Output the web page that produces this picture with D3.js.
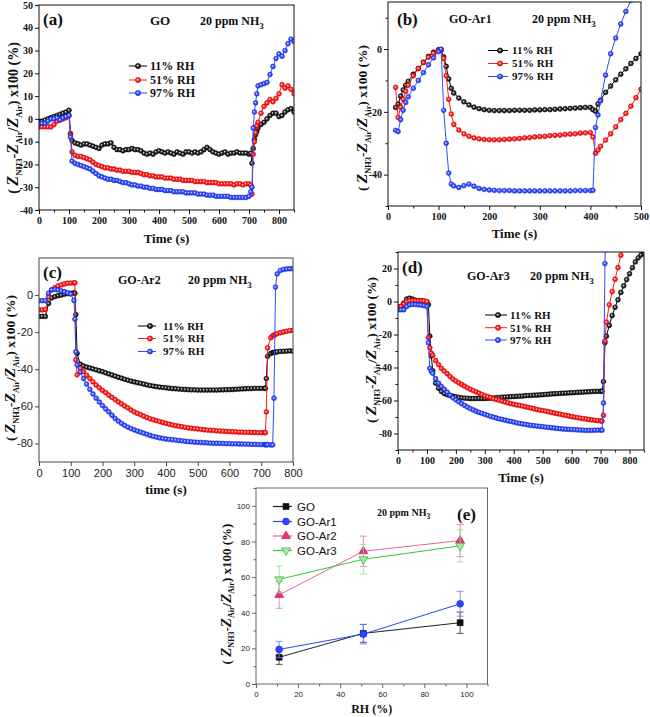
<!DOCTYPE html>
<html><head><meta charset="utf-8">
<script src="https://cdn.jsdelivr.net/npm/d3@7"></script>
<style>body{margin:0;background:#fff} svg{display:block}</style>
</head><body>
<svg id="chart" width="650" height="717"></svg>
<script>
// ---------------- DATA ----------------
const rhLabels = ["11% RH", "51% RH", "97% RH"];

// Panel (a) GO
const aTime = [0,10,20,30,40,50,60,70,80,90,100,105,
 110,120,130,140,150,160,170,180,190,200,
 210,220,230,240,250,260,270,280,290,300,
 310,320,330,340,350,360,370,380,390,400,
 410,420,430,440,450,460,470,480,490,500,
 510,520,530,540,550,560,570,580,590,600,
 610,620,630,640,650,660,670,680,690,700,
 706,710,714,718,722,726,
 730,740,750,760,770,780,790,800,810,820,830,840,850];
const a11 = [-1,-1,-0.5,0,0.5,1,1.5,2,2.5,3,3.8,-6.5,
 -9.5,-10.5,-11,-11.5,-11,-11,-11.5,-12,-12.5,-13,
 -11.5,-11,-11,-10.5,-12.5,-13.5,-13.5,-14,-13.5,-13.5,
 -13,-13.5,-13.5,-14,-15,-15.5,-15,-15.5,-14.5,-14,
 -14.5,-15,-14.5,-15,-15.5,-14.5,-15,-15.5,-14.5,-14.5,
 -15,-14.5,-15,-14.5,-13.5,-12.5,-13.5,-14.5,-15,-15.5,
 -15,-14.5,-15.5,-15,-15,-14.5,-15,-15,-15,-15.5,
 -15,-19.5,-13,-9,-7,-5.5,
 -4,-2.5,-1.5,0,1.5,2.5,2.5,1,1.5,3,4,4.5,3];
const a51 = [-3.5,-3.5,-3.5,-3.5,-3.5,-2.5,-1,-0.5,0,0.5,1.5,-7,
 -14.5,-16,-16.5,-16.5,-17,-17.5,-18,-19,-20,-20.5,
 -21,-21.5,-21.5,-22,-22,-22.5,-22.5,-23,-23,-23,
 -23.5,-23.5,-23.5,-24,-24.5,-24.5,-25,-25,-25.5,-25.5,
 -25.5,-26,-26,-26,-26.5,-26.5,-26.5,-27,-27,-27,
 -27,-27.5,-27.5,-27.5,-27.5,-28,-28,-28,-28,-28.5,
 -28.5,-28.5,-28.5,-28.5,-29,-28.5,-28.5,-29,-28.5,-28.5,
 -29,-33,-15.5,-10,-6,-3,
 -1.5,2.5,5.5,7,8.5,7.5,9,11,15,13.5,14.5,13,11];
const a97 = [-2,-2,-2,-1,0,0,0.5,-0.5,0.5,1,1.5,-8,
 -18.5,-19.5,-20,-20.5,-21,-21.5,-22,-23,-24,-25,
 -25.5,-26,-26.5,-26.5,-27,-27,-27.5,-28,-28,-28.5,
 -29,-29,-29.5,-29.5,-30,-30,-30.5,-30.5,-31,-31,
 -31,-31.5,-31.5,-31.5,-32,-32,-32,-32,-32.5,-32.5,
 -32.5,-32.5,-33,-33,-33,-33.5,-33.5,-33.5,-34,-34,
 -34,-34,-34,-34.5,-34.5,-34.5,-34.5,-34.5,-34.5,-34,
 -32,-30,-4,3,7,11,
 14.5,15,15.5,16,19.5,23,26.5,28.5,27.5,30,33,35,34];

// Panel (b) GO-Ar1
const bTime = [15,20,25,30,35,40,50,60,70,80,90,100,
 105,110,115,120,125,
 130,140,150,160,170,180,190,200,210,220,
 230,240,250,260,270,280,290,300,310,320,
 330,340,350,360,370,380,390,400,
 405,410,415,
 420,430,440,450,460,470,480,490,500];
const b11 = [-18.6,-17.5,-15,-13,-11.5,-10.3,-8,-6.2,-4.2,-2.3,-1,-0.2,
 -0.3,-2.5,-5.5,-9.5,-12.5,
 -14,-15.6,-16.8,-17.8,-18.5,-19,-19.3,-19.5,-19.6,-19.6,
 -19.6,-19.6,-19.5,-19.5,-19.5,-19.5,-19.4,-19.4,-19.3,-19.3,
 -19.2,-19.1,-19,-18.9,-18.8,-18.7,-18.6,-18.6,
 -19.3,-19.8,-17.5,
 -16.3,-13.8,-11.8,-9.8,-8,-6.3,-4.6,-3,-1.5];
const b51 = [-12.2,-21.8,-18.5,-16,-13.5,-11.5,-8.5,-6.2,-4.3,-2.6,-1.3,-0.5,
 -0.3,-3,-8.5,-16,-20.7,
 -24,-25.8,-27,-27.8,-28.3,-28.6,-28.8,-28.9,-28.9,-28.9,
 -28.8,-28.7,-28.6,-28.5,-28.3,-28.2,-28,-27.9,-27.8,-27.6,
 -27.5,-27.4,-27.2,-27.1,-27,-26.8,-26.7,-26.6,
 -28,-33.2,-32.2,
 -31,-29,-27,-24.8,-22.5,-20.5,-18.2,-15.5,-12.8];
const b97 = [-25.9,-26.3,-22.5,-19.5,-17,-15.2,-12.5,-10,-7.5,-5,-2.8,-0.8,
 0,-19.5,-30,-39.5,-43,
 -43.6,-44.1,-43.5,-43,-43.7,-44.4,-44.7,-44.9,-45,-45.1,
 -45.1,-45.1,-45.2,-45.2,-45.2,-45.2,-45.2,-45.2,-45.2,-45.2,
 -45.2,-45.2,-45.2,-45.2,-45.1,-45.1,-45.1,-45.1,
 -45,-25,-21,
 -16.5,-8.3,-1.5,3.5,8,12,15.5,19,null];

// Panel (c) GO-Ar2
const cTime = [0,10,20,30,40,50,60,70,80,90,100,110,
 113,116,
 120,130,140,150,160,170,180,190,200,210,
 220,230,240,250,260,270,280,290,300,310,
 320,330,340,350,360,370,380,390,400,410,
 420,430,440,450,460,470,480,490,500,510,
 520,530,540,550,560,570,580,590,600,610,
 620,630,640,650,660,670,680,690,700,710,
 713,716,
 720,730,736,740,745,750,760,770,780,790,800];
const c11 = [-11.5,-11.5,-11.5,-4.5,-1.5,-0.8,-0.3,0,0.5,0.8,1,1.2,
 1,-10.6,
 -31.5,-37.3,-38.2,-38.8,-39.3,-39.8,-40.3,-40.8,-41.3,-41.9,
 -42.5,-43.1,-43.7,-44.3,-44.8,-45.4,-45.9,-46.4,-46.8,-47.2,
 -47.6,-48,-48.4,-48.8,-49.1,-49.4,-49.6,-49.8,-50,-50.2,
 -50.4,-50.5,-50.7,-50.8,-50.9,-51,-51.1,-51.1,-51.2,-51.2,
 -51.2,-51.2,-51.2,-51.2,-51.2,-51.1,-51.1,-51,-51,-50.9,
 -50.8,-50.7,-50.6,-50.5,-50.4,-50.4,-50.3,-50.3,-50.3,-50.3,
 -50.3,-45,
 -33,-31.5,-31,-30.9,-30.8,-30.6,-30.4,-30.3,-30.2,-30.1,-30.2];
const c51 = [-8,-8,-7.8,-1,2.8,4,4.9,5.5,6,6.4,6.5,6.6,
 6.6,-35,
 -43,-39.5,-41.3,-43.3,-45,-46.8,-48.5,-50,-51.4,-52.6,
 -54,-55.2,-56.4,-57.6,-58.7,-59.8,-60.8,-62,-63,-63.8,
 -64.5,-65.3,-66,-66.7,-67.2,-67.7,-68.2,-68.7,-69.2,-69.6,
 -70,-70.4,-70.7,-71,-71.3,-71.6,-71.8,-72,-72.2,-72.4,
 -72.6,-72.8,-72.9,-73,-73.2,-73.3,-73.4,-73.5,-73.6,-73.7,
 -73.8,-73.9,-73.9,-74,-74,-74.1,-74.1,-74.2,-74.2,-74.2,
 -74.2,-63,
 -28.5,-23,-22,-21.6,-21.2,-20.8,-20.3,-19.9,-19.5,-19.2,-19];
const c97 = [-3,-3,-3,1,2.8,3,2.8,2.3,1.8,1.2,0.6,-2.9,
 -13,-30.6,
 -37.7,-41.5,-45,-48,-50.8,-53.3,-55.6,-57.7,-59.6,-61.4,
 -63,-64.8,-66.6,-68,-69.2,-70.3,-71.2,-72,-72.7,-73.3,
 -73.9,-74.5,-75.1,-75.7,-76.2,-76.6,-77,-77.3,-77.6,-77.8,
 -78,-78.2,-78.4,-78.6,-78.8,-79,-79.1,-79.3,-79.4,-79.5,
 -79.6,-79.7,-79.8,-79.9,-79.9,-80,-80,-80.1,-80.1,-80.2,
 -80.2,-80.3,-80.3,-80.4,-80.4,-80.5,-80.5,-80.6,-80.6,-80.6,
 -80.7,-80.7,
 -80.7,-80.8,-80.8,-55.6,4.3,11.4,13.2,13.8,14.1,14.2,14.2];

// Panel (d) GO-Ar3
const dTime = [0,10,20,30,40,50,60,70,80,90,100,105,
 110,115,
 120,130,140,150,160,170,180,190,200,210,
 220,230,240,250,260,270,280,290,300,310,
 320,330,340,350,360,370,380,390,400,410,
 420,430,440,450,460,470,480,490,500,510,
 520,530,540,550,560,570,580,590,600,610,
 620,630,640,650,660,670,680,690,700,
 705,710,715,
 720,730,740,750,760,770,780,790,800,810,820,830,840,850];
const d11 = [-3,-3,-1,1.5,2,1.5,0.8,0.5,0.5,0,-0.5,-2,
 -21,-33,
 -42,-49.5,-52.5,-54.5,-55.8,-56.5,-57,-57.4,-57.8,-58.1,
 -58.4,-58.6,-58.7,-58.8,-58.8,-58.8,-58.8,-58.8,-58.8,-58.7,
 -58.6,-58.5,-58.3,-58.2,-58,-57.9,-57.8,-57.7,-57.6,-57.5,
 -57.4,-57.3,-57.1,-57,-56.9,-56.8,-56.7,-56.6,-56.5,-56.3,
 -56.2,-56,-55.9,-55.8,-55.7,-55.6,-55.5,-55.4,-55.3,-55.2,
 -55.1,-55,-54.9,-54.8,-54.7,-54.6,-54.5,-54.5,-54.4,
 -54.4,-48.5,-25,
 -21,-14.5,-8.5,-3.5,1,5.5,9.5,13.3,16.8,20.5,24,26.5,28.2,29];
const d51 = [-3,-3,-1.5,0,0.5,0.5,0.5,0.5,0.5,0.3,0,-21.9,
 -28,-31.3,
 -32.5,-35.8,-38.2,-40.5,-42.2,-43.8,-45.5,-47,-48.2,-49.3,
 -50.3,-51.3,-52.3,-53.2,-54,-54.8,-55.6,-56.4,-57.1,-57.7,
 -58.3,-58.9,-59.4,-59.9,-60.4,-60.9,-61.4,-61.9,-62.3,-62.7,
 -63,-63.4,-63.8,-64.2,-64.6,-65,-65.5,-65.8,-66.1,-66.4,
 -66.8,-67.2,-67.6,-68,-68.3,-68.7,-69,-69.4,-69.8,-70.1,
 -70.4,-70.7,-71,-71.2,-71.5,-71.8,-72,-72.2,-72.4,
 -72.5,-69,-24,
 -12.5,-2,6,13.5,20.5,28,34,null,null,null,null,null,null,null];
const d97 = [-5,-5,-5,-3,-2,-1.8,-1.8,-2,-2.2,-2.5,-3,-25,
 -40.5,-42.4,
 -43.5,-46.8,-49.5,-51.5,-53.3,-55,-56.8,-58.4,-59.6,-60.8,
 -61.9,-63,-64,-64.9,-65.7,-66.5,-67.2,-67.8,-68.4,-69,
 -69.6,-70.1,-70.6,-71.1,-71.5,-71.9,-72.3,-72.7,-73.1,-73.5,
 -73.9,-74.2,-74.5,-74.8,-75.1,-75.3,-75.5,-75.7,-75.9,-76.1,
 -76.3,-76.5,-76.7,-76.9,-77.1,-77.3,-77.4,-77.5,-77.6,-77.7,
 -77.8,-77.9,-78,-78.1,-78.1,-78.1,-78,-78,-77.9,
 -78,-61.5,23,
 60,null,null,null,null,null,null,null,null,null,null,null,null,null];

// Panel (e) summary
const rhValues = [11, 51, 97];
const eNames = ["GO", "GO-Ar1", "GO-Ar2", "GO-Ar3"];
const eGO = [15, 28.4, 34.4],   eGOErr = [4, 5, 6];
const eAr1 = [19.4, 28, 45],    eAr1Err = [4.5, 5.5, 7];
const eAr2 = [50, 74.5, 80.5],  eAr2Err = [7.5, 8.5, 9];
const eAr3 = [58.7, 70, 77.5],  eAr3Err = [7.5, 8.3, 9];

// ticks
const aXTicks = [0,100,200,300,400,500,600,700,800];
const aYTicks = [-40,-30,-20,-10,0,10,20,30,40,50];
const bXTicks = [0,100,200,300,400,500];
const bYTicks = [-40,-20,0];
const cXTicks = [0,100,200,300,400,500,600,700,800];
const cYTicks = [-80,-60,-40,-20,0];
const dXTicks = [0,100,200,300,400,500,600,700,800];
const dYTicks = [-80,-60,-40,-20,0,20];
const eXTicks = [0,20,40,60,80,100];
const eYTicks = [0,20,40,60,80,100];

// ---------------- DRAW ----------------
const svg = d3.select("#chart");
const SERIF = "'Liberation Serif','Times New Roman',serif";
const SANS = "'Liberation Sans',Arial,sans-serif";
const defs = svg.append("defs");

function grad(id, light, mid, dark) {
  const g = defs.append("radialGradient").attr("id", id)
    .attr("cx", "50%").attr("cy", "50%").attr("r", "55%").attr("fx", "40%").attr("fy", "40%");
  g.append("stop").attr("offset", "0%").attr("stop-color", light);
  g.append("stop").attr("offset", "50%").attr("stop-color", mid);
  g.append("stop").attr("offset", "100%").attr("stop-color", dark);
}
grad("gK", "#e8e8e8", "#333", "#000");
grad("gR", "#ffd8d8", "#ff2a2a", "#d00000");
grad("gB", "#dfe4ff", "#3a55ff", "#1228d0");

const sty = [
  {line: "#000", fill: "url(#gK)", stroke: "#000"},
  {line: "#ff1a1a", fill: "url(#gR)", stroke: "#e00000"},
  {line: "#2f4bff", fill: "url(#gB)", stroke: "#1a30e0"}
];

function yLabel(xc, yc, size) {
  const t = svg.append("text")
    .attr("transform", `translate(${xc},${yc}) rotate(-90)`)
    .attr("text-anchor", "middle").attr("dy", "0.35em")
    .attr("font-family", SERIF).attr("font-weight", "bold").attr("font-size", size).attr("fill", "#111");
  const sub = size * 0.62, zs = size * 1.15, sh = size * 0.3;
  t.append("tspan").text("( ");
  t.append("tspan").attr("font-style", "italic").attr("font-size", zs).text("Z");
  t.append("tspan").attr("font-size", sub).attr("dy", sh).text("NH3");
  t.append("tspan").attr("dy", -sh).text("-");
  t.append("tspan").attr("font-style", "italic").attr("font-size", zs).text("Z");
  t.append("tspan").attr("font-size", sub).attr("dy", sh).text("Air");
  t.append("tspan").attr("dy", -sh).text("/");
  t.append("tspan").attr("font-style", "italic").attr("font-size", zs).text("Z");
  t.append("tspan").attr("font-size", sub).attr("dy", sh).text("Air");
  t.append("tspan").attr("dy", -sh).text(") x100 (%)");
}

function nh3Text(x, y, size) {
  const t = svg.append("text").attr("x", x).attr("y", y)
    .attr("font-family", SERIF).attr("font-weight", "bold").attr("font-size", size).attr("fill", "#111");
  t.append("tspan").text("20 ppm NH");
  t.append("tspan").attr("font-size", size * 0.75).attr("dy", size * 0.3).text("3");
}

function txt(x, y, s, size, opts = {}) {
  return svg.append("text").attr("x", x).attr("y", y).text(s)
    .attr("font-family", opts.family || SERIF).attr("font-weight", opts.weight || "bold")
    .attr("font-size", size).attr("fill", opts.fill || "#111")
    .attr("text-anchor", opts.anchor || "start");
}

function axes(c, x, y) {
  const fmt = d => String(d);
  const gx = svg.append("g").attr("transform", `translate(0,${c.B})`)
    .call(d3.axisBottom(x).tickValues(c.xTicks).tickSize(4).tickPadding(3).tickSizeOuter(0).tickFormat(fmt));
  if (c.xMinor) svg.append("g").attr("transform", `translate(0,${c.B})`)
    .call(d3.axisBottom(x).tickValues(c.xMinor).tickSize(2.5).tickSizeOuter(0).tickFormat(""))
    .call(g => g.select(".domain").remove()).selectAll("line").attr("stroke", c.frame);
  const gy = svg.append("g").attr("transform", `translate(${c.L},0)`)
    .call(d3.axisLeft(y).tickValues(c.yTicks).tickSize(4).tickPadding(2).tickSizeOuter(0).tickFormat(fmt));
  if (c.yMinor) svg.append("g").attr("transform", `translate(${c.L},0)`)
    .call(d3.axisLeft(y).tickValues(c.yMinor).tickSize(2.5).tickSizeOuter(0).tickFormat(""))
    .call(g => g.select(".domain").remove()).selectAll("line").attr("stroke", c.frame);
  [gx, gy].forEach(g => {
    g.select(".domain").remove();
    g.attr("font-family", c.tf).attr("font-size", c.ts).attr("font-weight", c.tw);
    g.selectAll("text").attr("fill", c.tc || "#111");
    g.selectAll("line").attr("stroke", c.frame);
  });
  svg.append("rect").attr("x", c.L).attr("y", c.T).attr("width", c.R - c.L).attr("height", c.B - c.T)
    .attr("fill", "none").attr("stroke", c.frame).attr("stroke-width", 1);
}

function timePanel(c) {
  const x = d3.scaleLinear().domain(c.xd).range([c.L, c.R]);
  const y = d3.scaleLinear().domain(c.yd).range([c.B, c.T]);
  defs.append("clipPath").attr("id", "clip" + c.id).append("rect")
    .attr("x", c.L).attr("y", c.T).attr("width", c.R - c.L).attr("height", c.B - c.T);
  const plot = svg.append("g").attr("clip-path", `url(#clip${c.id})`);
  c.series.forEach((vals, si) => {
    const pts = c.time.map((t, i) => [t, vals[i]]);
    const line = d3.line().defined(d => d[1] != null).x(d => x(d[0])).y(d => y(d[1]));
    plot.append("path").attr("d", line(pts)).attr("fill", "none")
      .attr("stroke", sty[si].line).attr("stroke-width", 1);
    plot.selectAll(null).data(pts.filter(d => d[1] != null)).join("circle")
      .attr("cx", d => x(d[0])).attr("cy", d => y(d[1])).attr("r", c.r || 2.4)
      .attr("fill", sty[si].fill).attr("stroke", sty[si].stroke).attr("stroke-width", 0.6);
  });
  axes(c, x, y);
  // legend
  c.legRows.forEach((ly, i) => {
    svg.append("line").attr("x1", c.legX[0]).attr("x2", c.legX[1]).attr("y1", ly).attr("y2", ly)
      .attr("stroke", sty[i].line).attr("stroke-width", 1);
    svg.append("circle").attr("cx", c.legX[2]).attr("cy", ly).attr("r", 2.6)
      .attr("fill", sty[i].fill).attr("stroke", sty[i].stroke).attr("stroke-width", 0.6);
    txt(c.legX[3], ly, rhLabels[i], c.legSize).attr("dy", "0.35em");
  });
}

// (a)
timePanel({id: "a", L: 39, R: 294, T: 5, B: 210, xd: [0, 850], yd: [-40, 50],
  time: aTime, series: [a11, a51, a97], xTicks: aXTicks, yTicks: aYTicks,
  xMinor: [50,150,250,350,450,550,650,750,850], yMinor: null,
  frame: "#111", tf: SERIF, ts: 10, tw: "bold",
  legRows: [66, 80, 93], legX: [129, 147, 138, 150], legSize: 12});
txt(43, 25, "(a)", 17);
txt(150, 25, "GO", 13);
nh3Text(200, 25, 12);
txt(166.5, 243, "Time (s)", 13, {anchor: "middle"});
yLabel(13, 118, 14);

// (b)
timePanel({id: "b", L: 388, R: 641, T: 2, B: 206, xd: [0, 500], yd: [-50, 15],
  time: bTime, series: [b11, b51, b97], xTicks: bXTicks, yTicks: bYTicks,
  xMinor: [50,150,250,350,450], yMinor: [-50,-30,-10,10],
  frame: "#111", tf: SERIF, ts: 10, tw: "bold",
  legRows: [50.5, 63.5, 76.5], legX: [488, 508, 500, 512], legSize: 11});
txt(397, 25, "(b)", 17);
txt(449, 23, "GO-Ar1", 12);
nh3Text(532, 23, 12);
txt(514.5, 238, "Time (s)", 13, {anchor: "middle"});
yLabel(362, 118, 13.5);

// (c)
timePanel({id: "c", L: 39, R: 293, T: 258, B: 462, xd: [0, 800], yd: [-90, 20],
  time: cTime, series: [c11, c51, c97], xTicks: cXTicks, yTicks: cYTicks,
  xMinor: null, yMinor: null,
  frame: "#444", tf: SANS, ts: 11, tw: "normal", tc: "#222",
  legRows: [326, 338.5, 351.5], legX: [138, 156, 150, 163], legSize: 11});
txt(43, 278, "(c)", 17);
txt(118, 284, "GO-Ar2", 12);
nh3Text(188, 284, 12);
txt(166, 494, "time (s)", 13, {anchor: "middle"});
yLabel(10, 368, 13.5);

// (d)
timePanel({id: "d", L: 398, R: 644, T: 252, B: 450, xd: [0, 850], yd: [-90, 30],
  time: dTime, series: [d11, d51, d97], xTicks: dXTicks, yTicks: dYTicks,
  xMinor: [50,150,250,350,450,550,650,750,850], yMinor: [-90,-70,-50,-30,-10,10,30],
  frame: "#111", tf: SERIF, ts: 10, tw: "bold",
  legRows: [315, 327.7, 340], legX: [485, 507, 498, 510], legSize: 11});
txt(402, 273, "(d)", 17);
txt(467, 280, "GO-Ar3", 12);
nh3Text(530, 280, 12);
txt(521, 482, "Time (s)", 13, {anchor: "middle"});
yLabel(371, 350, 13.5);

// (e)
(function () {
  const c = {L: 256, R: 487.5, T: 488, B: 684, xTicks: eXTicks, yTicks: eYTicks,
    xMinor: [10,30,50,70,90,110], yMinor: [10,30,50,70,90,110],
    frame: "#666", tf: SANS, ts: 8, tw: "normal", tc: "#222"};
  const x = d3.scaleLinear().domain([0, 110]).range([c.L, c.R]);
  const y = d3.scaleLinear().domain([0, 110]).range([c.B, c.T]);
  const series = [
    {vals: eGO, err: eGOErr, line: "#222", ebar: "#444", fill: "#111", stroke: "#000", shape: d3.symbolSquare, rot: 0, size: 34},
    {vals: eAr1, err: eAr1Err, line: "#2a46ff", ebar: "#6f86ff", fill: "#2a46ff", stroke: "#1a30e0", shape: d3.symbolCircle, rot: 0, size: 36},
    {vals: eAr2, err: eAr2Err, line: "#f0609a", ebar: "#f07aa8", fill: "#e8336f", stroke: "#d01a5a", shape: d3.symbolTriangle, rot: 0, size: 34},
    {vals: eAr3, err: eAr3Err, line: "#3cc43c", ebar: "#9ae29a", fill: "#a8eaa8", stroke: "#2fb02f", shape: d3.symbolTriangle, rot: 180, size: 34}
  ];
  series.forEach(s => {
    const pts = rhValues.map((r, i) => ({r, v: s.vals[i], e: s.err[i]}));
    pts.forEach(p => {
      svg.append("line").attr("x1", x(p.r)).attr("x2", x(p.r)).attr("y1", y(p.v - p.e)).attr("y2", y(p.v + p.e))
        .attr("stroke", s.ebar).attr("stroke-width", 0.9);
      [p.v - p.e, p.v + p.e].forEach(v => svg.append("line")
        .attr("x1", x(p.r) - 3.5).attr("x2", x(p.r) + 3.5).attr("y1", y(v)).attr("y2", y(v))
        .attr("stroke", s.ebar).attr("stroke-width", 0.9));
    });
    svg.append("path").attr("d", d3.line().x(d => x(d.r)).y(d => y(d.v))(pts))
      .attr("fill", "none").attr("stroke", s.line).attr("stroke-width", 1);
    svg.selectAll(null).data(pts).join("path")
      .attr("d", d3.symbol(s.shape, s.size))
      .attr("transform", d => `translate(${x(d.r)},${y(d.v)}) rotate(${s.rot})`)
      .attr("fill", s.fill).attr("stroke", s.stroke).attr("stroke-width", 0.7);
  });
  axes(c, x, y);
  const rows = [506.5, 521.5, 536, 550.5];
  series.forEach((s, i) => {
    svg.append("line").attr("x1", 273).attr("x2", 292).attr("y1", rows[i]).attr("y2", rows[i])
      .attr("stroke", s.line).attr("stroke-width", 1.2);
    svg.append("path").attr("d", d3.symbol(s.shape, s.size))
      .attr("transform", `translate(286,${rows[i]}) rotate(${s.rot})`)
      .attr("fill", s.fill).attr("stroke", s.stroke).attr("stroke-width", 0.7);
    txt(297, rows[i], eNames[i], 11.5, {family: SANS, weight: "normal", fill: "#111"}).attr("dy", "0.35em");
  });
  nh3Text(377, 516, 10);
  txt(457, 520, "(e)", 17);
  txt(371.7, 713, "RH (%)", 12, {anchor: "middle"});
  yLabel(226, 594, 13);
})();
</script>
</body></html>
